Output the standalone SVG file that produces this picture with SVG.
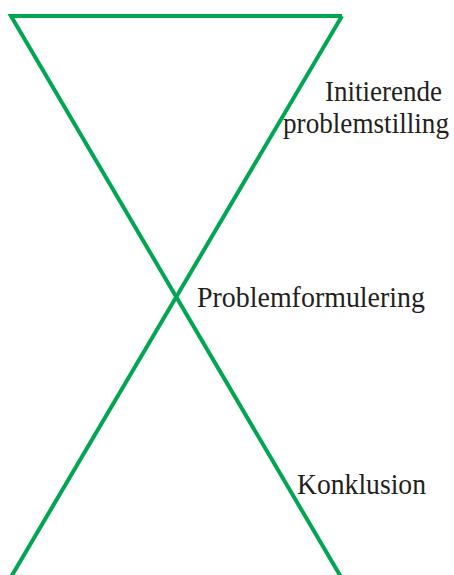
<svg xmlns="http://www.w3.org/2000/svg" width="454" height="575" viewBox="0 0 454 575">
<style>
.ln{stroke:#00a651;stroke-width:4;fill:none;stroke-linejoin:miter;stroke-linecap:butt}
.t{font-family:"Liberation Serif","Times New Roman",serif;font-size:29px;fill:#231f20}
</style>
<rect width="454" height="575" fill="#fff"/>
<g id="connectors">
<path class="ln" d="M342,16 L11,16 L341,577"/>
<path class="ln" d="M342,16 L11,577"/>
</g>
<g id="initierende">
<text class="t" x="325" y="101" textLength="117" lengthAdjust="spacingAndGlyphs">Initierende</text>
<text class="t" x="283" y="133" style="font-size:27px" transform="translate(0,133) scale(1,1.074) translate(0,-133)" textLength="166" lengthAdjust="spacingAndGlyphs">problemstilling</text>
</g>
<g id="problemformulering">
<text class="t" x="197" y="307" textLength="228" lengthAdjust="spacingAndGlyphs">Problemformulering</text>
</g>
<g id="konklusion">
<text class="t" x="297" y="494" textLength="129" lengthAdjust="spacingAndGlyphs">Konklusion</text>
</g>
</svg>
